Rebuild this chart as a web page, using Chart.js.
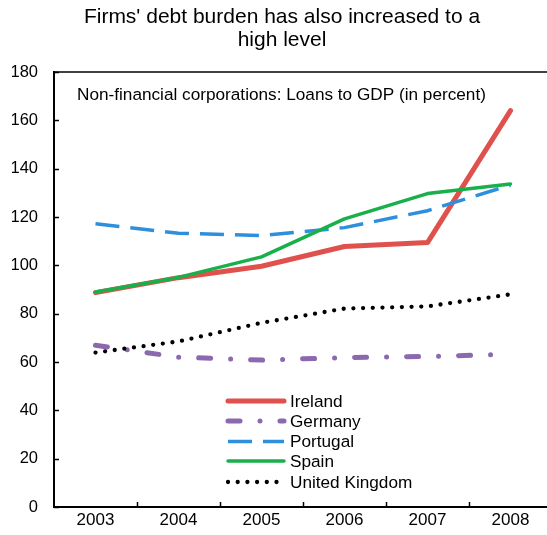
<!DOCTYPE html>
<html><head><meta charset="utf-8">
<script src="https://cdn.jsdelivr.net/npm/chart.js@4.4.1/dist/chart.umd.min.js"></script>
<style>
html,body{margin:0;padding:0;overflow:hidden;background:#fff;width:547px;height:535px;}
#wrap{position:absolute;left:0;top:0;width:552px;height:535px;}
</style></head><body>
<div id="wrap"><canvas id="c" width="552" height="535"></canvas></div>
<script>
const years = ['2003', '2004', '2005', '2006', '2007', '2008'];
const ireland = [88.7, 94.9, 99.6, 107.8, 109.4, 164.0];
const germany = [66.9, 62.0, 60.8, 61.8, 62.3, 63.2];
const portugal = [117.2, 113.3, 112.3, 115.6, 122.6, 133.2];
const spain = [89.0, 95.0, 103.5, 119.2, 129.7, 133.7];
const uk = [63.9, 68.5, 76.2, 82.1, 83.0, 88.0];
const seriesNames = ['Ireland', 'Germany', 'Portugal', 'Spain', 'United Kingdom'];
const yTickValues = [0, 20, 40, 60, 80, 100, 120, 140, 160, 180];
const titleLines = ["Firms' debt burden has also increased to a", 'high level'];
const noteText = 'Non-financial corporations: Loans to GDP (in percent)';

const FONT = "'Liberation Sans', Arial, sans-serif";

const frame = {
  id: 'frame',
  afterDatasetsDraw(chart) {
    const ctx = chart.ctx, a = chart.chartArea;
    const xs = chart.scales.x, ys = chart.scales.y;
    ctx.save();
    ctx.strokeStyle = '#000';
    ctx.lineWidth = 1.5;
    ctx.beginPath();
    ctx.moveTo(a.left, a.top); ctx.lineTo(a.right, a.top);
    ctx.stroke();
    // y ticks inward
    yTickValues.forEach(v => {
      const y = Math.round(ys.getPixelForValue(v)) + 0.5;
      ctx.beginPath(); ctx.moveTo(a.left, y); ctx.lineTo(a.left + 5, y); ctx.stroke();
    });
    // x ticks at category boundaries, inward
    for (let i = 0; i < years.length - 1; i++) {
      const x = Math.round((xs.getPixelForValue(i) + xs.getPixelForValue(i + 1)) / 2) + 0.5;
      ctx.beginPath(); ctx.moveTo(x, a.bottom); ctx.lineTo(x, a.bottom - 5); ctx.stroke();
    }
    // note
    ctx.fillStyle = '#000';
    ctx.font = '17.2px ' + FONT;
    ctx.textAlign = 'left';
    ctx.textBaseline = 'alphabetic';
    ctx.fillText(noteText, 77, 100);
    // legend
    const lx0 = 228, lx1 = 284, tx = 290;
    const rows = [401, 421, 441.5, 461, 482];
    chart.data.datasets.forEach((ds, i) => {
      const y = rows[i];
      ctx.save();
      ctx.strokeStyle = ds.borderColor;
      ctx.lineWidth = ds.borderWidth;
      ctx.lineCap = ds.borderCapStyle || 'butt';
      ctx.setLineDash(ds.borderDash || []);
      ctx.beginPath(); ctx.moveTo(lx0, y); ctx.lineTo(lx1, y); ctx.stroke();
      ctx.restore();
      ctx.fillStyle = '#000';
      ctx.font = '17.2px ' + FONT;
      ctx.textBaseline = 'middle';
      ctx.fillText(ds.label, tx, y + 1);
    });
    ctx.restore();
  }
};

new Chart(document.getElementById('c'), {
  type: 'line',
  data: {
    labels: years,
    datasets: [
      { label: seriesNames[0], data: ireland, borderColor: '#E0504C', borderWidth: 5, borderCapStyle: 'round', borderJoinStyle: 'round', order: 5 },
      { label: seriesNames[1], data: germany, borderColor: '#8C68AE', borderWidth: 5, borderDash: [12, 20, 0, 20], borderCapStyle: 'round', order: 4 },
      { label: seriesNames[2], data: portugal, borderColor: '#2E90DC', borderWidth: 3.5, borderDash: [24, 11], borderCapStyle: 'butt', order: 3 },
      { label: seriesNames[3], data: spain, borderColor: '#19AF4B', borderWidth: 3.5, borderCapStyle: 'round', borderJoinStyle: 'round', order: 2 },
      { label: seriesNames[4], data: uk, borderColor: '#000000', borderWidth: 4.3, borderDash: [0, 9.7], borderCapStyle: 'round', order: 1 }
    ]
  },
  options: {
    responsive: false,
    animation: false,
    devicePixelRatio: 1,
    layout: { padding: { left: 12, right: 0, top: 0, bottom: 0 } },
    elements: { point: { radius: 0, hoverRadius: 0 }, line: { tension: 0, fill: false } },
    plugins: {
      legend: { display: false },
      tooltip: { enabled: false },
      title: {
        display: true,
        text: titleLines,
        color: '#000',
        font: { family: FONT, size: 21, weight: 'normal', lineHeight: 1.1 },
        padding: { top: 5.5, bottom: 20.3 }
      }
    },
    scales: {
      x: {
        type: 'category',
        offset: true,
        grid: { display: false, drawTicks: false },
        border: { display: true, color: '#000', width: 2 },
        ticks: { color: '#000', font: { family: FONT, size: 17 }, padding: 3, maxRotation: 0, autoSkip: false },
        afterFit(s) { s.height = 28; }
      },
      y: {
        min: 0, max: 180,
        grid: { display: false, drawTicks: false },
        border: { display: true, color: '#000', width: 2 },
        ticks: { stepSize: 20, color: '#000', font: { family: FONT, size: 16.5 }, padding: 16 },
        afterFit(s) { s.width = 42; }
      }
    }
  },
  plugins: [frame]
});
</script>
</body></html>
